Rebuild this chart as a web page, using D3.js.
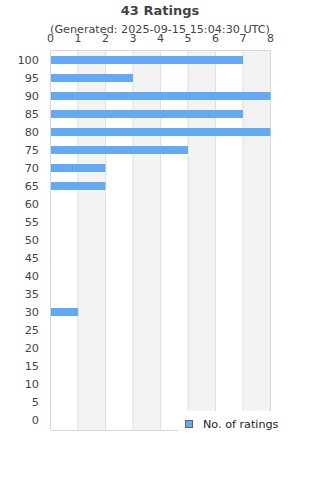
<!DOCTYPE html>
<html>
<head>
<meta charset="utf-8">
<script src="https://cdn.jsdelivr.net/npm/d3@7"></script>
<style>
  body { margin: 0; background: #fff; }
  svg { display: block; font-family: "DejaVu Sans", sans-serif; }
</style>
</head>
<body>
<svg id="chart" width="320" height="480"></svg>
<script>
'use strict';

const titleText = "43 Ratings";
const subtitleText = "(Generated: 2025-09-15 15:04:30 UTC)";
const seriesName = "No. of ratings";
const scores = [100, 95, 90, 85, 80, 75, 70, 65, 60, 55, 50, 45, 40, 35, 30, 25, 20, 15, 10, 5, 0];
const counts = [7, 3, 8, 7, 8, 5, 2, 2, 0, 0, 0, 0, 0, 0, 1, 0, 0, 0, 0, 0, 0];
const xTicks = [0, 1, 2, 3, 4, 5, 6, 7, 8];

const margin = { top: 50, right: 50, bottom: 50, left: 50 };
const width = 320, height = 480;

const svg = d3.select("#chart");

const x = d3.scaleLinear()
    .domain([0, 8])
    .range([margin.left, width - margin.right]);

const y = d3.scaleBand()
    .domain(scores)
    .range([margin.top, height - margin.bottom])
    .paddingInner(0.55)
    .paddingOuter(0.33);

// alternating bands
svg.append("g")
    .selectAll("rect")
    .data(xTicks.slice(0, -1).filter(d => d % 2 === 1))
    .join("rect")
    .attr("x", d => x(d))
    .attr("y", margin.top)
    .attr("width", d => x(d + 1) - x(d))
    .attr("height", height - margin.bottom - margin.top)
    .attr("fill", "#f3f3f3");

// gridlines
svg.append("g")
    .selectAll("line")
    .data(xTicks)
    .join("line")
    .attr("x1", d => x(d) + 0.5)
    .attr("x2", d => x(d) + 0.5)
    .attr("y1", margin.top)
    .attr("y2", height - margin.bottom)
    .attr("stroke", "#e0e0e0");

// frame
svg.append("rect")
    .attr("x", margin.left + 0.5)
    .attr("y", margin.top + 0.5)
    .attr("width", x(8) - x(0))
    .attr("height", height - margin.bottom - margin.top)
    .attr("fill", "none")
    .attr("stroke", "#d8d8d8");

// bars
svg.append("g")
    .selectAll("rect")
    .data(scores.map((s, i) => ({ score: s, count: counts[i] })))
    .join("rect")
    .attr("x", x(0) + 1)
    .attr("y", d => Math.round(y(d.score)))
    .attr("width", d => Math.max(0, x(d.count) - x(0) - (d.count > 0 ? 0.5 : 0)))
    .attr("height", Math.round(y.bandwidth()))
    .attr("fill", "#63a9f3");

// top axis
const xAxis = svg.append("g")
    .attr("transform", `translate(0,${margin.top})`)
    .call(d3.axisTop(x).tickValues(xTicks).tickSize(0).tickPadding(8));
xAxis.select(".domain").remove();
xAxis.selectAll("text")
    .attr("fill", "#444")
    .style("font-size", "11px")
    .style("font-family", "DejaVu Sans");

// left axis
const yAxis = svg.append("g")
    .attr("transform", `translate(${margin.left},0)`)
    .call(d3.axisLeft(y).tickSize(0).tickPadding(11));
yAxis.select(".domain").remove();
yAxis.selectAll("text")
    .attr("fill", "#444")
    .style("font-size", "11.3px")
    .style("font-family", "DejaVu Sans");

// titles
svg.append("text")
    .attr("x", 160)
    .attr("y", 15)
    .attr("text-anchor", "middle")
    .attr("fill", "#444")
    .style("font-size", "13px")
    .style("font-weight", "bold")
    .text(titleText);

svg.append("text")
    .attr("x", 160)
    .attr("y", 32.5)
    .attr("text-anchor", "middle")
    .attr("fill", "#444")
    .style("font-size", "11.2px")
    .text(subtitleText);

// legend
const legend = svg.append("g");
legend.append("rect")
    .attr("x", 178)
    .attr("y", 411)
    .attr("width", 142)
    .attr("height", 30)
    .attr("fill", "#fff");
legend.append("rect")
    .attr("x", 185.5)
    .attr("y", 420.5)
    .attr("width", 7)
    .attr("height", 7)
    .attr("fill", "#63a9f3")
    .attr("stroke", "#666");
legend.append("text")
    .attr("x", 203)
    .attr("y", 428)
    .attr("fill", "#222")
    .style("font-size", "11.2px")
    .text(seriesName);
</script>
</body>
</html>
